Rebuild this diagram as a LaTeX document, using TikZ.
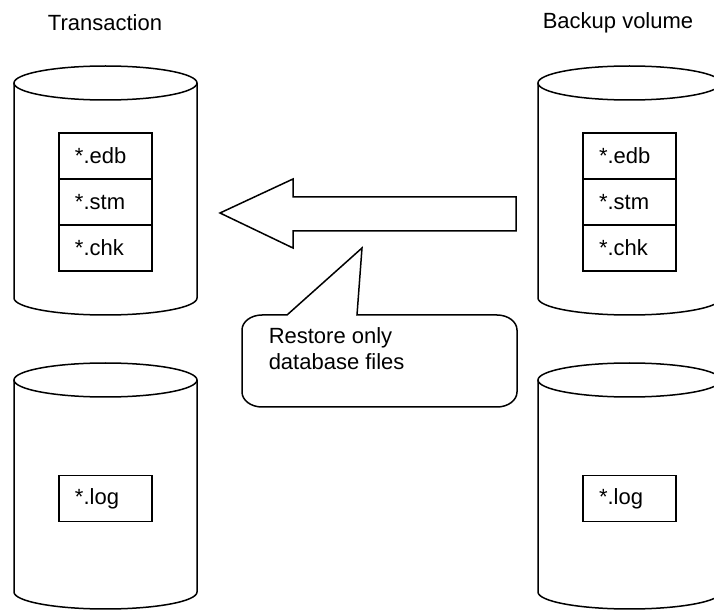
\documentclass[tikz,border=0pt]{standalone}
\usepackage{fontspec}
\setmainfont{Liberation Sans}
\usetikzlibrary{positioning}

\begin{document}
\begin{tikzpicture}[
x=0.5pt, y=-0.5pt,
line width=0.75pt,
font=\fontsize{11}{13}\selectfont,
node distance=0pt,
file/.style={draw, rectangle, outer sep=0pt, minimum height=23pt, text width=30.5pt, inner xsep=8pt, align=left},
title/.style={inner sep=0pt},
corner/.style={x radius=20, y radius=15}
]

\useasboundingbox (0,0) rectangle (714,610);
\clip (0,0) rectangle (714,610);

% Volumes
\foreach \cx/\cy/\h in {105.5/83/215, 105.5/380/212, 629.5/83/215, 629.5/380/212} {
  \draw (\cx-91.5,\cy) -- ++(0,\h) arc[start angle=180, end angle=0, x radius=91.5, y radius=17] -- (\cx+91.5,\cy);
  \draw (\cx,\cy) ellipse[x radius=91.5, y radius=17];
}

% Titles
\node[title] (trans) at (105,23) {Transaction};
\node[title] (backup) at (618,23) {Backup volume};

% Transaction files
\node[file] (tedb) at (105.5,156) {*.edb};
\node[file, below=of tedb] (tstm) {*.stm};
\node[file, below=of tstm] (tchk) {*.chk};
\node[file] (tlog) at (105.5,498.5) {*.log};

% Backup files
\node[file] (bedb) at (629.5,156) {*.edb};
\node[file, below=of bedb] (bstm) {*.stm};
\node[file, below=of bstm] (bchk) {*.chk};
\node[file] (blog) at (629.5,498.5) {*.log};

% Restore arrow
\draw (220,213) -- (293,179) -- (293,197) -- (516,197) -- (516,231) -- (293,231) -- (293,248) -- cycle;

% Callout
\draw (362,248) -- (357,315) -- (497,315) arc[start angle=-90, end angle=0, corner]
  -- (517,392) arc[start angle=0, end angle=90, corner]
  -- (262,407) arc[start angle=90, end angle=180, corner]
  -- (242,330) arc[start angle=180, end angle=270, corner]
  -- (287,315) -- cycle;
\node[align=left, anchor=west, inner sep=0pt] (note) at (268,349) {Restore only\\database files};

\end{tikzpicture}
\end{document}
